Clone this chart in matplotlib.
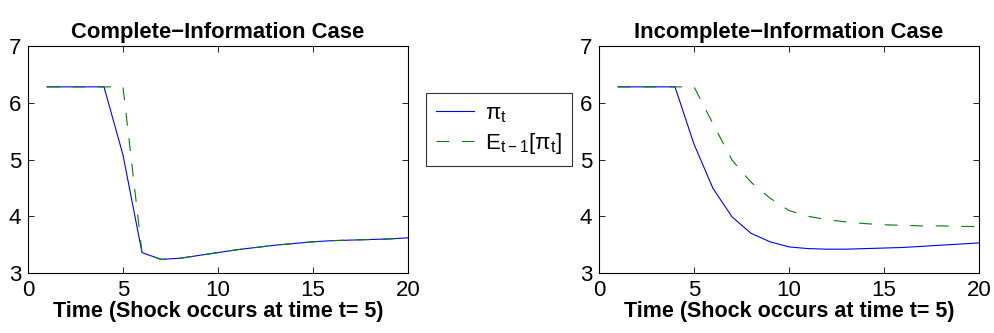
import matplotlib
matplotlib.use("Agg")
import matplotlib.pyplot as plt

plt.rcParams['font.family'] = ['Liberation Sans', 'DejaVu Sans']

t = list(range(1, 21))
pi_complete = [6.28, 6.28, 6.28, 6.28, 5.08, 3.36, 3.24, 3.26, 3.31, 3.36, 3.41, 3.45,
               3.49, 3.52, 3.55, 3.57, 3.58, 3.59, 3.60, 3.62]
exp_complete = [6.28, 6.28, 6.28, 6.28, 6.28, 3.36, 3.24, 3.26, 3.31, 3.36, 3.41, 3.45,
                3.49, 3.52, 3.55, 3.57, 3.58, 3.59, 3.60, 3.62]
pi_incomplete = [6.28, 6.28, 6.28, 6.28, 5.27, 4.49, 3.99, 3.70, 3.55, 3.46, 3.43, 3.42,
                 3.42, 3.43, 3.44, 3.45, 3.47, 3.49, 3.51, 3.53]
exp_incomplete = [6.28, 6.28, 6.28, 6.28, 6.28, 5.63, 4.99, 4.60, 4.32, 4.10, 4.00, 3.94,
                  3.90, 3.87, 3.85, 3.84, 3.83, 3.83, 3.82, 3.82]

titles = ['Complete\u2212Information Case', 'Incomplete\u2212Information Case']
xlabel = 'Time (Shock occurs at time t= 5)'
xticks = [0, 5, 10, 15, 20]
yticks = [3, 4, 5, 6, 7]

W, H = 994, 333
fig = plt.figure(figsize=(W / 100, H / 100), dpi=100)

def ax_rect(x0, x1, y0, y1):
    return [x0 / W, 1 - y1 / H, (x1 - x0) / W, (y1 - y0) / H]

ax1 = fig.add_axes(ax_rect(28, 408, 46, 273))
ax2 = fig.add_axes(ax_rect(599, 979, 46, 273))

data = [(pi_complete, exp_complete), (pi_incomplete, exp_incomplete)]
handles = None
for ax, title, (p, e) in zip([ax1, ax2], titles, data):
    h1, = ax.plot(t, p, color='#0000ff', lw=0.8, label=r'$\mathregular{\pi_t}$')
    h2, = ax.plot(t, e, color='#008000', lw=0.8, ls=(0, (11.5, 11.5)),
                  label=r'$\mathregular{E_{t-1}[\pi_t]}$')
    handles = [h1, h2]
    ax.set_xlim(0, 20)
    ax.set_ylim(3, 7)
    ax.set_xticks(xticks)
    ax.set_yticks(yticks)
    ax.tick_params(direction='in', top=True, right=True, labelsize=16, length=4,
                   width=0.6)
    ax.tick_params(axis='x', pad=5)
    ax.tick_params(axis='y', pad=5)
    for s in ax.spines.values():
        s.set_linewidth(0.8)
    ax.set_title(title, fontsize=15.8, fontweight='bold', pad=6)
    ax.set_xlabel(xlabel, fontsize=15.5, fontweight='bold', labelpad=0)

leg = fig.legend(handles=handles, loc='upper left',
                 bbox_to_anchor=(426 / W, 1 - 93 / H), fontsize=16,
                 frameon=True, fancybox=False, edgecolor='black',
                 handlelength=1.7, borderpad=0.45, labelspacing=0.3,
                 handletextpad=0.5, borderaxespad=0)
leg.get_frame().set_linewidth(0.8)

fig.savefig('out.png', dpi=100)
